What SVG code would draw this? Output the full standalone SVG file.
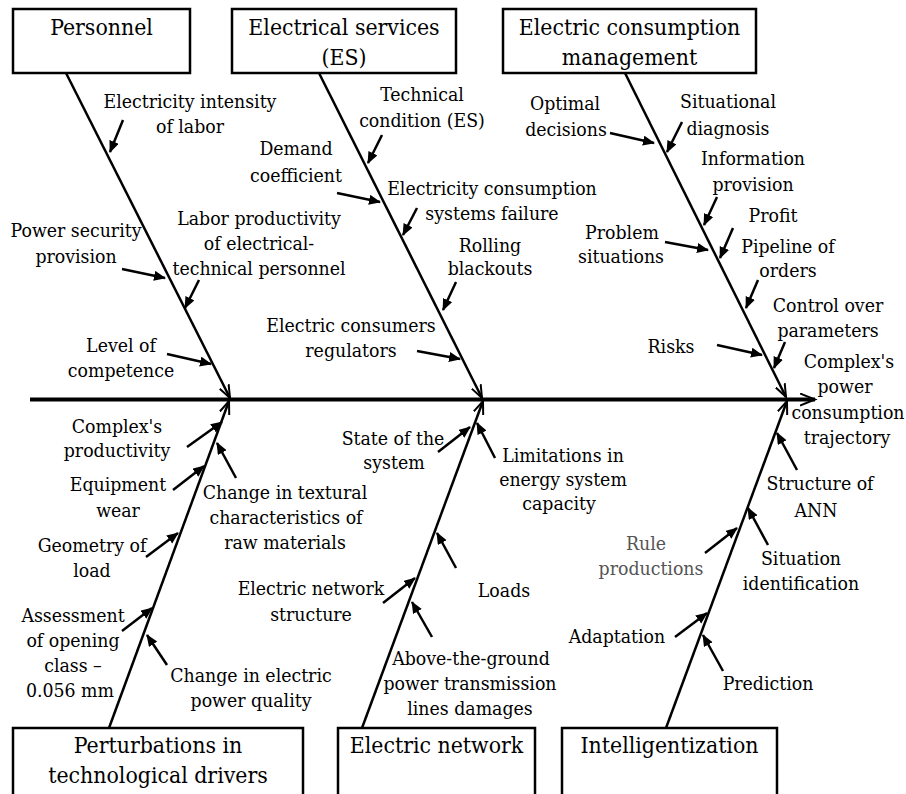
<svg xmlns="http://www.w3.org/2000/svg" width="906" height="794" viewBox="0 0 906 794">
<defs>
<style>
text{font-family:'DejaVu Serif',serif;font-stretch:condensed;fill:#000;text-anchor:middle}
.t{font-size:22.8px}
.l{font-size:19.3px}
.g{fill:#555}
.box{fill:#fff;stroke:#000;stroke-width:2.5}
.bone{stroke:#000;stroke-width:2.5;fill:none;marker-end:url(#open)}
.arr{stroke:#000;stroke-width:2.5;fill:none;marker-end:url(#fill)}
.spine{stroke:#000;stroke-width:4;fill:none;marker-end:url(#open2)}
</style>
<marker id="fill" markerUnits="userSpaceOnUse" markerWidth="14" markerHeight="12" refX="11" refY="5" orient="auto">
<path d="M0,0 L12,5 L0,10 z" fill="#000"/>
</marker>
<marker id="open" markerUnits="userSpaceOnUse" markerWidth="16" markerHeight="14" refX="13" refY="6" orient="auto">
<path d="M0,1 L13,6 L0,11" fill="none" stroke="#000" stroke-width="2"/>
</marker>
<marker id="open2" markerUnits="userSpaceOnUse" markerWidth="18" markerHeight="14" refX="15" refY="7" orient="auto">
<path d="M0,1 L15,7 L0,13" fill="none" stroke="#000" stroke-width="2"/>
</marker>
</defs>
<rect width="906" height="794" fill="#fff"/>

<g id="connectors">
<line class="spine" x1="30" y1="399.5" x2="815" y2="399.5"/>
<line class="bone" x1="66" y1="73" x2="230" y2="398"/>
<line class="bone" x1="319" y1="73" x2="482" y2="398"/>
<line class="bone" x1="625" y1="73" x2="786" y2="397"/>
<line class="bone" x1="109" y1="728" x2="229" y2="401"/>
<line class="bone" x1="362" y1="728" x2="483" y2="401"/>
<line class="bone" x1="666" y1="728" x2="787" y2="401"/>
<line class="arr" x1="123" y1="120" x2="110" y2="152"/>
<line class="arr" x1="122" y1="269" x2="165" y2="278"/>
<line class="arr" x1="199" y1="280" x2="185" y2="308"/>
<line class="arr" x1="167" y1="354" x2="211" y2="364"/>
<line class="arr" x1="382" y1="135" x2="368" y2="163"/>
<line class="arr" x1="337" y1="193" x2="380" y2="202"/>
<line class="arr" x1="417" y1="208" x2="403" y2="235"/>
<line class="arr" x1="456" y1="282" x2="443" y2="310"/>
<line class="arr" x1="417" y1="351" x2="460" y2="359"/>
<line class="arr" x1="610" y1="133" x2="654" y2="143"/>
<line class="arr" x1="682" y1="122" x2="667" y2="152"/>
<line class="arr" x1="717" y1="197" x2="704" y2="225"/>
<line class="arr" x1="733" y1="228" x2="720" y2="258"/>
<line class="arr" x1="665" y1="242" x2="708" y2="250"/>
<line class="arr" x1="758" y1="280" x2="746" y2="308"/>
<line class="arr" x1="785" y1="342" x2="774" y2="368"/>
<line class="arr" x1="717" y1="345" x2="762" y2="355"/>
<line class="arr" x1="187" y1="447" x2="222" y2="422"/>
<line class="arr" x1="236" y1="478" x2="217" y2="443"/>
<line class="arr" x1="173" y1="490" x2="204" y2="466"/>
<line class="arr" x1="146" y1="557" x2="178" y2="533"/>
<line class="arr" x1="122" y1="631" x2="152" y2="608"/>
<line class="arr" x1="167" y1="665" x2="147" y2="635"/>
<line class="arr" x1="438" y1="452" x2="470" y2="427"/>
<line class="arr" x1="495" y1="458" x2="477" y2="423"/>
<line class="arr" x1="383" y1="603" x2="415" y2="578"/>
<line class="arr" x1="456" y1="568" x2="437" y2="533"/>
<line class="arr" x1="432" y1="637" x2="412" y2="602"/>
<line class="arr" x1="797" y1="470" x2="777" y2="433"/>
<line class="arr" x1="705" y1="553" x2="737" y2="528"/>
<line class="arr" x1="768" y1="545" x2="748" y2="508"/>
<line class="arr" x1="675" y1="637" x2="707" y2="613"/>
<line class="arr" x1="723" y1="671" x2="703" y2="635"/>
</g>

<g id="personnel">
<rect class="box" x="13" y="9" width="177" height="64"/>
<text class="t" x="101.5" y="35">Personnel</text>
</g>
<g id="electrical-services">
<rect class="box" x="232" y="9" width="224" height="64"/>
<text class="t" x="344" y="35">Electrical services</text>
<text class="t" x="344" y="65">(ES)</text>
</g>
<g id="consumption-management">
<rect class="box" x="503" y="9" width="253" height="64"/>
<text class="t" x="629.5" y="35">Electric consumption</text>
<text class="t" x="629.5" y="65">management</text>
</g>
<g id="perturbations">
<rect class="box" x="13" y="728" width="290" height="80"/>
<text class="t" x="158" y="753">Perturbations in</text>
<text class="t" x="158" y="783">technological drivers</text>
</g>
<g id="electric-network">
<rect class="box" x="338" y="728" width="197" height="80"/>
<text class="t" x="436.5" y="753">Electric network</text>
</g>
<g id="intelligentization">
<rect class="box" x="562" y="728" width="215" height="80"/>
<text class="t" x="669.5" y="753">Intelligentization</text>
</g>

<g id="labels">
<text class="l" x="190" y="108">Electricity intensity</text>
<text class="l" x="190" y="133">of labor</text>
<text class="l" x="76" y="237">Power security</text>
<text class="l" x="76" y="263">provision</text>
<text class="l" x="259" y="225">Labor productivity</text>
<text class="l" x="259" y="250">of electrical-</text>
<text class="l" x="259" y="275">technical personnel</text>
<text class="l" x="121" y="352">Level of</text>
<text class="l" x="121" y="377">competence</text>
<text class="l" x="422" y="101">Technical</text>
<text class="l" x="422" y="127">condition (ES)</text>
<text class="l" x="296" y="155">Demand</text>
<text class="l" x="296" y="182">coefficient</text>
<text class="l" x="492" y="195">Electricity consumption</text>
<text class="l" x="492" y="220">systems failure</text>
<text class="l" x="490" y="252">Rolling</text>
<text class="l" x="490" y="275">blackouts</text>
<text class="l" x="351" y="332">Electric consumers</text>
<text class="l" x="351" y="357">regulators</text>
<text class="l" x="565" y="110">Optimal</text>
<text class="l" x="566" y="136">decisions</text>
<text class="l" x="728" y="108">Situational</text>
<text class="l" x="728" y="135">diagnosis</text>
<text class="l" x="753" y="165">Information</text>
<text class="l" x="753" y="191">provision</text>
<text class="l" x="773" y="222">Profit</text>
<text class="l" x="622" y="239">Problem</text>
<text class="l" x="621" y="263">situations</text>
<text class="l" x="788" y="253">Pipeline of</text>
<text class="l" x="788" y="277">orders</text>
<text class="l" x="828" y="312">Control over</text>
<text class="l" x="828" y="337">parameters</text>
<text class="l" x="671" y="353">Risks</text>
<text class="l" x="849" y="368">Complex's</text>
<text class="l" x="845" y="393">power</text>
<text class="l" x="848" y="419">consumption</text>
<text class="l" x="847" y="444">trajectory</text>
<text class="l" x="117" y="433">Complex's</text>
<text class="l" x="117" y="457">productivity</text>
<text class="l" x="285" y="499">Change in textural</text>
<text class="l" x="286" y="524">characteristics of</text>
<text class="l" x="285" y="549">raw materials</text>
<text class="l" x="118" y="491">Equipment</text>
<text class="l" x="118" y="517">wear</text>
<text class="l" x="92" y="552">Geometry of</text>
<text class="l" x="92" y="577">load</text>
<text class="l" x="73" y="622">Assessment</text>
<text class="l" x="73" y="647">of opening</text>
<text class="l" x="73" y="672">class –</text>
<text class="l" x="70" y="697">0.056 mm</text>
<text class="l" x="251" y="682">Change in electric</text>
<text class="l" x="251" y="707">power quality</text>
<text class="l" x="393" y="445">State of the</text>
<text class="l" x="394" y="469">system</text>
<text class="l" x="563" y="462">Limitations in</text>
<text class="l" x="563" y="486">energy system</text>
<text class="l" x="559" y="510">capacity</text>
<text class="l" x="311" y="595">Electric network</text>
<text class="l" x="311" y="621">structure</text>
<text class="l" x="504" y="597">Loads</text>
<text class="l" x="471" y="665">Above-the-ground</text>
<text class="l" x="470" y="690">power transmission</text>
<text class="l" x="470" y="715">lines damages</text>
<text class="l" x="820" y="490">Structure of</text>
<text class="l" x="816" y="517">ANN</text>
<text class="l g" x="646" y="550">Rule</text>
<text class="l g" x="651" y="575">productions</text>
<text class="l" x="801" y="565">Situation</text>
<text class="l" x="801" y="590">identification</text>
<text class="l" x="617" y="643">Adaptation</text>
<text class="l" x="768" y="690">Prediction</text>
</g>
</svg>
